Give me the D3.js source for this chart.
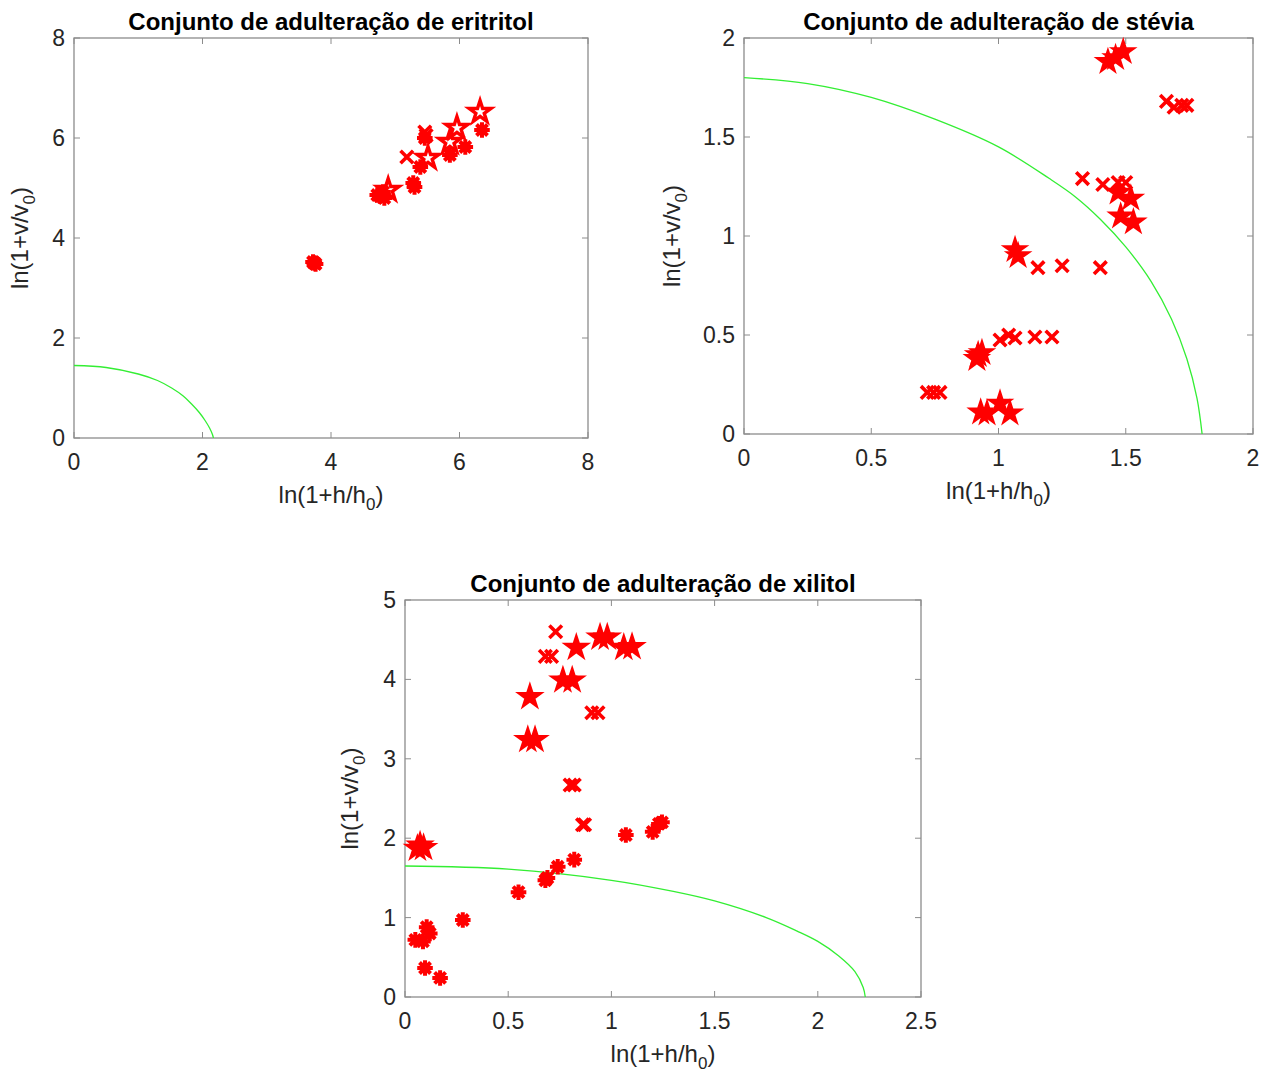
<!DOCTYPE html>
<meta charset="utf-8">
<style>
body{margin:0;background:white;}
svg{display:block;background:white;}
.tick-label{font-family:"Liberation Sans",Arial,sans-serif;font-size:23px;fill:#262626;}
.ax-label{font-family:"Liberation Sans",Arial,sans-serif;font-size:24px;fill:#262626;}
.title{font-family:"Liberation Sans",Arial,sans-serif;font-size:24px;font-weight:bold;fill:#000;}
</style>
<body>
<script src="https://cdn.jsdelivr.net/npm/d3@7"></script>
<script>
// ---- data ----
// eritritol
var eriX   = [[5.46,6.12],[5.18,5.62],[5.48,6.05]];
var eriAst = [[6.35,6.16],[6.09,5.82],[5.85,5.66],[5.46,6.0],[5.39,5.42],[5.28,5.1],[5.3,5.02],
              [4.81,4.92],[4.76,4.84],[4.83,4.8],[4.72,4.86],[3.72,3.52],[3.76,3.48],[3.74,3.5]];
var eriPen = [[6.32,6.52],[5.96,6.2],[5.85,5.92],[5.51,5.6],[4.89,4.96]];
var eriCurve = [[0,1.45],[0.5,1.41],[1.0,1.28],[1.3,1.15],[1.52,1.0],[1.7,0.84],[1.83,0.68],
                [1.95,0.51],[2.04,0.35],[2.11,0.2],[2.155,0.07],[2.17,0]];
// stévia
var steX   = [[1.66,1.68],[1.69,1.65],[1.72,1.66],[1.74,1.66],[1.33,1.29],[1.41,1.26],[1.47,1.27],
              [1.50,1.27],[1.155,0.84],[1.25,0.85],[1.40,0.84],[1.006,0.475],[1.04,0.50],[1.065,0.485],
              [1.143,0.49],[1.21,0.49],[0.72,0.21],[0.745,0.21],[0.77,0.21]];
var stePen = [[1.49,1.93],[1.43,1.88],[1.46,1.90],[1.52,1.19],[1.48,1.10],[1.53,1.07],[1.47,1.22],
              [1.065,0.93],[1.077,0.90],[0.92,0.40],[0.935,0.41],[0.915,0.38],
              [0.93,0.11],[0.955,0.105],[1.006,0.155],[1.045,0.105]];
var steCurve = [[0,1.80],[0.25,1.77],[0.5,1.70],[0.75,1.59],[1.0,1.45],[1.2,1.29],[1.3,1.20],
                [1.4,1.085],[1.5,0.945],[1.6,0.77],[1.68,0.58],[1.74,0.38],[1.78,0.18],[1.8,0]];
// xilitol
var xilX   = [[0.73,4.6],[0.68,4.29],[0.71,4.29],[0.905,3.58],[0.935,3.58],[0.80,2.67],[0.82,2.67],
              [0.86,2.17],[0.87,2.17]];
var xilPen = [[0.83,4.40],[0.945,4.53],[0.98,4.53],[1.06,4.40],[1.10,4.41],[0.765,3.99],[0.81,3.99],
              [0.605,3.78],[0.595,3.24],[0.63,3.24],[0.073,1.91],[0.09,1.88],[0.06,1.87]];
var xilAst = [[1.07,2.04],[1.20,2.08],[1.245,2.20],[1.23,2.18],[0.82,1.73],[0.74,1.64],[0.68,1.47],
              [0.69,1.50],[0.55,1.32],[0.28,0.97],[0.105,0.88],[0.12,0.80],[0.05,0.72],[0.087,0.70],
              [0.097,0.365],[0.17,0.24]];
var xilCurve = [[0,1.65],[0.5,1.61],[1.0,1.47],[1.3,1.33],[1.5,1.21],[1.75,1.0],[1.9,0.83],
                [2.0,0.70],[2.1,0.52],[2.18,0.32],[2.22,0.12],[2.23,0]];

var ticks1 = [0,2,4,6,8];
var ticks2 = [0,0.5,1,1.5,2];
var ticks3x = [0,0.5,1,1.5,2,2.5];
var ticks3y = [0,1,2,3,4,5];

var svg = d3.select("body").append("svg").attr("width",1276).attr("height",1075);

function starPath(r, n){
  var ri = r*0.382, pts = [];
  for (var i=0;i<2*n;i++){
    var a = -Math.PI/2 + i*Math.PI/n, rr = i%2 ? ri : r;
    pts.push([rr*Math.cos(a), rr*Math.sin(a)]);
  }
  return "M"+pts.join("L")+"Z";
}

function panel(o){
  var x = d3.scaleLinear().domain(o.xd).range([o.l,o.r]);
  var y = d3.scaleLinear().domain(o.yd).range([o.b,o.t]);
  var g = svg.append("g");

  g.append("rect").attr("x",o.l).attr("y",o.t).attr("width",o.r-o.l).attr("height",o.b-o.t)
   .attr("fill","none").attr("stroke","#8c8c8c").attr("stroke-width",1.3);

  // ticks inside on all four sides
  var tl = 6;
  o.xt.forEach(function(v){
    g.append("line").attr("x1",x(v)).attr("x2",x(v)).attr("y1",o.b).attr("y2",o.b-tl).attr("stroke","#8c8c8c");
    g.append("line").attr("x1",x(v)).attr("x2",x(v)).attr("y1",o.t).attr("y2",o.t+tl).attr("stroke","#8c8c8c");
    g.append("text").attr("class","tick-label").attr("x",x(v)).attr("y",o.b+32)
     .attr("text-anchor","middle").text(v);
  });
  o.yt.forEach(function(v){
    g.append("line").attr("y1",y(v)).attr("y2",y(v)).attr("x1",o.l).attr("x2",o.l+tl).attr("stroke","#8c8c8c");
    g.append("line").attr("y1",y(v)).attr("y2",y(v)).attr("x1",o.r).attr("x2",o.r-tl).attr("stroke","#8c8c8c");
    g.append("text").attr("class","tick-label").attr("x",o.l-9).attr("y",y(v)+8)
     .attr("text-anchor","end").text(v);
  });

  g.append("text").attr("class","title").attr("x",(o.l+o.r)/2).attr("y",o.t-8)
   .attr("text-anchor","middle").text(o.title);

  var xl = g.append("text").attr("class","ax-label").attr("x",(o.l+o.r)/2).attr("y",o.b+65)
   .attr("text-anchor","middle");
  xl.append("tspan").text("ln(1+h/h");
  xl.append("tspan").attr("font-size","17px").attr("dy",7).text("0");
  xl.append("tspan").attr("dy",-7).text(")");

  var yl = g.append("text").attr("class","ax-label")
   .attr("transform","translate("+(o.l-o.ylo)+","+((o.t+o.b)/2)+") rotate(-90)")
   .attr("text-anchor","middle");
  yl.append("tspan").text("ln(1+v/v");
  yl.append("tspan").attr("font-size","17px").attr("dy",7).text("0");
  yl.append("tspan").attr("dy",-7).text(")");

  var clip = "clip"+o.id;
  g.append("clipPath").attr("id",clip).append("rect")
   .attr("x",o.l).attr("y",o.t).attr("width",o.r-o.l).attr("height",o.b-o.t);

  g.append("path").datum(o.curve)
   .attr("d", d3.line().x(function(d){return x(d[0]);}).y(function(d){return y(d[1]);}).curve(d3.curveCatmullRom))
   .attr("fill","none").attr("stroke","#33ee33").attr("stroke-width",1.3)
   .attr("clip-path","url(#"+clip+")");

  var red = "#ff0000";
  (o.xs||[]).forEach(function(d){
    var s = 6.3;
    g.append("path").attr("transform","translate("+x(d[0])+","+y(d[1])+")")
     .attr("d","M"+(-s)+","+(-s)+"L"+s+","+s+"M"+(-s)+","+s+"L"+s+","+(-s))
     .attr("stroke",red).attr("stroke-width",3.6).attr("fill","none");
  });
  (o.ast||[]).forEach(function(d){
    var s = 7.8, p = "";
    for (var i=0;i<4;i++){
      var a = i*Math.PI/4;
      p += "M"+(-s*Math.cos(a))+","+(-s*Math.sin(a))+"L"+(s*Math.cos(a))+","+(s*Math.sin(a));
    }
    g.append("path").attr("transform","translate("+x(d[0])+","+y(d[1])+")")
     .attr("d",p).attr("stroke",red).attr("stroke-width",4).attr("fill","none");
  });
  (o.pen||[]).forEach(function(d){
    g.append("path").attr("transform","translate("+x(d[0])+","+y(d[1])+")")
     .attr("d",starPath(o.penR||11,5)).attr("stroke",red).attr("stroke-width",o.penFill?2.2:3.4)
     .attr("stroke-linejoin","miter").attr("fill",o.penFill?red:"none");
  });
}

panel({id:1,l:74,r:588,t:38,b:438,xd:[0,8],yd:[0,8],xt:ticks1,yt:ticks1,ylo:46,
  title:"Conjunto de adulteração de eritritol",curve:eriCurve,xs:eriX,ast:eriAst,pen:eriPen,penR:11.5,penFill:false});
panel({id:2,l:744,r:1253,t:38,b:434,xd:[0,2],yd:[0,2],xt:ticks2,yt:ticks2,ylo:64,
  title:"Conjunto de adulteração de stévia",curve:steCurve,xs:steX,pen:stePen,penR:11.5,penFill:true});
panel({id:3,l:405,r:921,t:600,b:997,xd:[0,2.5],yd:[0,5],xt:ticks3x,yt:ticks3y,ylo:47,
  title:"Conjunto de adulteração de xilitol",curve:xilCurve,xs:xilX,ast:xilAst,pen:xilPen,penR:12,penFill:true});
</script>
</body>
